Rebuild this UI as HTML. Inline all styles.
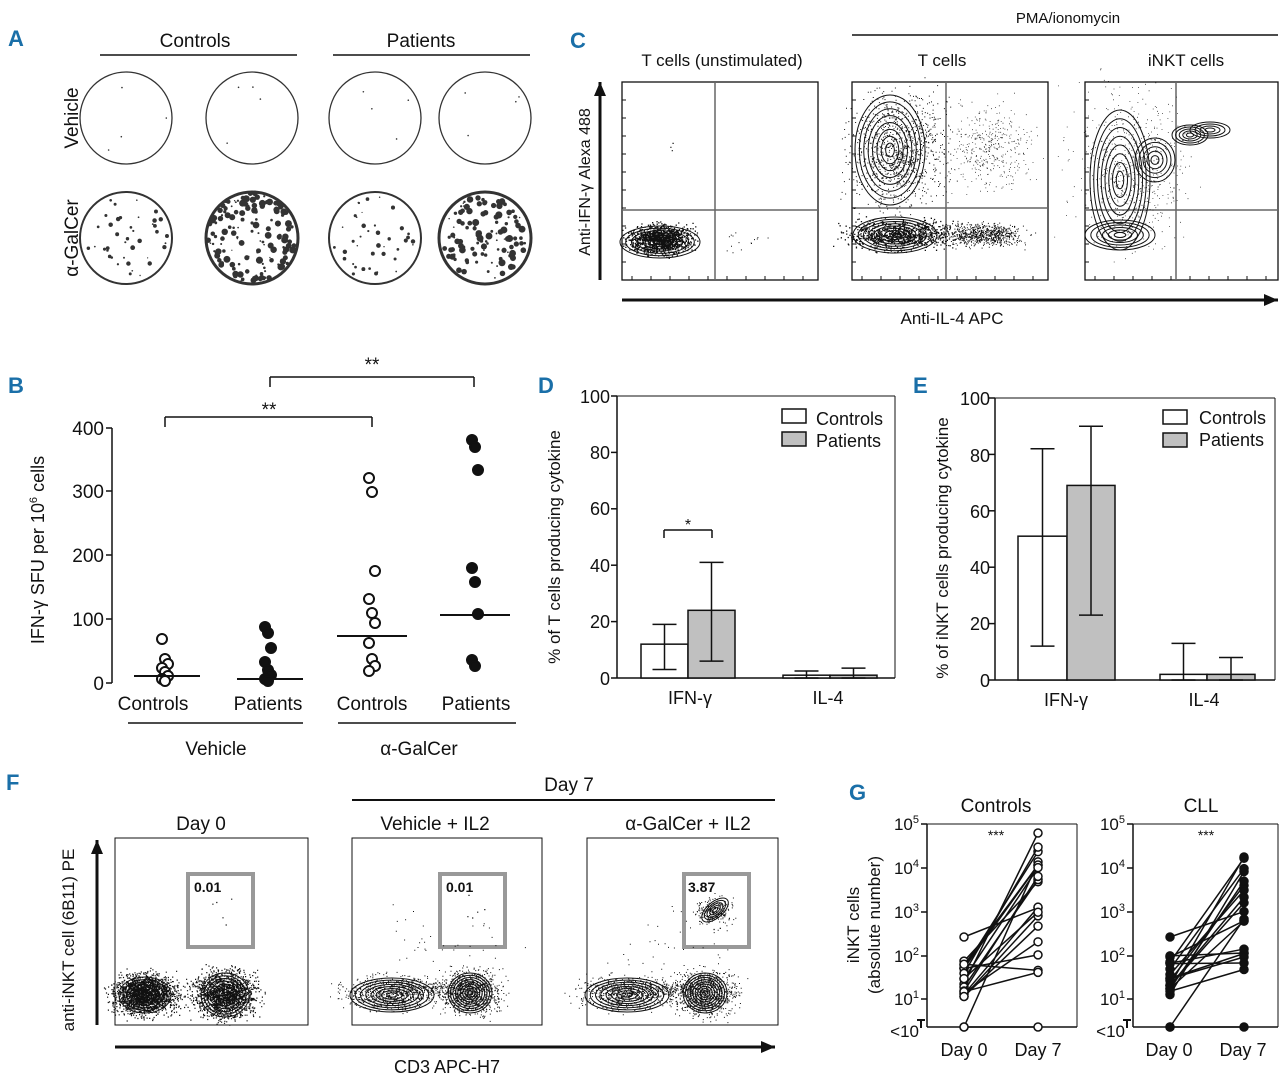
<!DOCTYPE html>
<html><head><meta charset="utf-8">
<style>
html,body{margin:0;padding:0;background:#fff;}
svg{display:block;font-family:"Liberation Sans Narrow","Liberation Sans",sans-serif;}
.pl{font-family:"Liberation Sans",sans-serif;font-weight:bold;fill:#1a6fa8;font-size:22px;}
</style></head><body>
<svg id="s" width="1280" height="1080" viewBox="0 0 1280 1080" xmlns="http://www.w3.org/2000/svg">
<g font-size="18" fill="#111" stroke="none">
<text class="pl" x="8" y="46">A</text>
<text class="pl" x="570" y="48">C</text>
<text class="pl" x="8" y="393">B</text>
<text class="pl" x="538" y="393">D</text>
<text class="pl" x="913" y="393">E</text>
<text class="pl" x="6" y="790">F</text>
<text class="pl" x="849" y="800">G</text>

<text x="195" y="47" text-anchor="middle" font-size="19">Controls</text>
<text x="421" y="47" text-anchor="middle" font-size="19">Patients</text>
<text transform="translate(78,118) rotate(-90)" text-anchor="middle" font-size="19">Vehicle</text>
<text transform="translate(78,238) rotate(-90)" text-anchor="middle" font-size="19">α-GalCer</text>

<text x="1068" y="23" text-anchor="middle" font-size="15">PMA/ionomycin</text>
<text x="722" y="66" text-anchor="middle" font-size="17">T cells (unstimulated)</text>
<text x="942" y="66" text-anchor="middle" font-size="17">T cells</text>
<text x="1186" y="66" text-anchor="middle" font-size="17">iNKT cells</text>
<text transform="translate(590,182) rotate(-90)" text-anchor="middle" font-size="16">Anti-IFN-γ Alexa 488</text>
<text x="952" y="324" text-anchor="middle" font-size="17">Anti-IL-4 APC</text>

<text transform="translate(44,550) rotate(-90)" text-anchor="middle" font-size="18">IFN-γ SFU per 10<tspan dy="-7" font-size="11">6</tspan><tspan dy="7"> cells</tspan></text>
<g font-size="19" text-anchor="end">
<text x="104" y="435">400</text><text x="104" y="498">300</text><text x="104" y="562">200</text><text x="104" y="626">100</text><text x="104" y="690">0</text></g>
<g font-size="19" text-anchor="middle">
<text x="153" y="710">Controls</text><text x="268" y="710">Patients</text><text x="372" y="710">Controls</text><text x="476" y="710">Patients</text>
<text x="216" y="755">Vehicle</text><text x="419" y="755">α-GalCer</text>
<text x="269" y="416">**</text><text x="372" y="371">**</text></g>

<text transform="translate(560,547) rotate(-90)" text-anchor="middle" font-size="17">% of T cells producing cytokine</text>
<g font-size="18" text-anchor="end">
<text x="610" y="403">100</text><text x="610" y="459">80</text><text x="610" y="515">60</text><text x="610" y="572">40</text><text x="610" y="628">20</text><text x="610" y="685">0</text></g>
<text x="690" y="704" text-anchor="middle" font-size="18">IFN-γ</text>
<text x="828" y="704" text-anchor="middle" font-size="18">IL-4</text>
<text x="816" y="425" font-size="18">Controls</text><text x="816" y="447" font-size="18">Patients</text>
<text x="688" y="530" text-anchor="middle" font-size="16">*</text>

<text transform="translate(948,548) rotate(-90)" text-anchor="middle" font-size="17">% of iNKT cells producing cytokine</text>
<g font-size="18" text-anchor="end">
<text x="990" y="405">100</text><text x="990" y="462">80</text><text x="990" y="518">60</text><text x="990" y="574">40</text><text x="990" y="630">20</text><text x="990" y="687">0</text></g>
<text x="1066" y="706" text-anchor="middle" font-size="18">IFN-γ</text>
<text x="1204" y="706" text-anchor="middle" font-size="18">IL-4</text>
<text x="1199" y="424" font-size="18">Controls</text><text x="1199" y="446" font-size="18">Patients</text>

<text x="569" y="791" text-anchor="middle" font-size="19">Day 7</text>
<text x="201" y="830" text-anchor="middle" font-size="19">Day 0</text>
<text x="435" y="830" text-anchor="middle" font-size="19">Vehicle + IL2</text>
<text x="688" y="830" text-anchor="middle" font-size="19">α-GalCer + IL2</text>
<text transform="translate(74,940) rotate(-90)" text-anchor="middle" font-size="17">anti-iNKT cell (6B11) PE</text>
<text x="447" y="1073" text-anchor="middle" font-size="18">CD3 APC-H7</text>
<g font-size="14" font-weight="bold" font-family="Liberation Sans,sans-serif">
<text x="194" y="892">0.01</text><text x="446" y="892">0.01</text><text x="688" y="892">3.87</text></g>

<text x="996" y="812" text-anchor="middle" font-size="19">Controls</text>
<text x="1201" y="812" text-anchor="middle" font-size="19">CLL</text>
<text transform="translate(859,925) rotate(-90)" text-anchor="middle" font-size="17">iNKT cells</text>
<text transform="translate(880,925) rotate(-90)" text-anchor="middle" font-size="17">(absolute number)</text>
<text x="996" y="840" text-anchor="middle" font-size="14">***</text>
<text x="1206" y="840" text-anchor="middle" font-size="14">***</text>
<g font-size="18" text-anchor="middle">
<text x="964" y="1056">Day 0</text><text x="1038" y="1056">Day 7</text>
<text x="1169" y="1056">Day 0</text><text x="1243" y="1056">Day 7</text></g>
<g font-size="17" text-anchor="end" id="gt"></g>
</g>
<g id="dyn"></g>
</svg>
<script>
var NS="http://www.w3.org/2000/svg",D=document.getElementById("dyn");
function el(t,a,p){var e=document.createElementNS(NS,t);for(var k in a)e.setAttribute(k,a[k]);(p||D).appendChild(e);return e;}
function L(x1,y1,x2,y2,w,c){el("line",{x1:x1,y1:y1,x2:x2,y2:y2,stroke:c||"#111","stroke-width":w||1.5});}
function R(x,y,w,h,f,s,sw){el("rect",{x:x,y:y,width:w,height:h,fill:f||"none",stroke:s||"#111","stroke-width":sw||1.3});}
var seed=7;function rnd(){seed=(seed*16807)%2147483647;return seed/2147483647;}
function g(){return (rnd()+rnd()+rnd()-1.5)/0.75;}
function arrow(x1,y1,x2,y2){L(x1,y1,x2,y2,3);var dx=x2-x1,dy=y2-y1,l=Math.hypot(dx,dy);dx/=l;dy/=l;
el("polygon",{points:x2+","+y2+" "+(x2-dx*14-dy*6)+","+(y2-dy*14+dx*6)+" "+(x2-dx*14+dy*6)+","+(y2-dy*14-dx*6),fill:"#111"});}
function dots(cx,cy,sx,sy,n,r){var s="";for(var i=0;i<n;i++){var x=cx+g()*sx,y=cy+g()*sy;s+="M"+x.toFixed(1)+" "+y.toFixed(1)+"h"+(r||1.2);}el("path",{d:s,stroke:"#111","stroke-width":r||1.2,fill:"none"});}
function cont(cx,cy,rx,ry,n,rot){for(var i=1;i<=n;i++){el("ellipse",{cx:cx,cy:cy,rx:rx*i/n,ry:ry*i/n,fill:"none",stroke:"#111","stroke-width":1,transform:"rotate("+(rot||0)+" "+cx+" "+cy+")"});}}
L(100,55,297,55,1.5);L(333,55,530,55,1.5);
[[126,118,0],[252,118,0],[375,118,0],[485,118,0],[126,238,1],[252,238,3],[375,238,1],[485,238,2]].forEach(function(c){
el("circle",{cx:c[0],cy:c[1],r:46,fill:"none",stroke:"#333","stroke-width":c[2]>1?3:(c[2]==0?1.3:2)});
var n=[4,40,120,90][c[2]];for(var i=0;i<n;i++){var a=rnd()*6.28,r=Math.sqrt(rnd())*42;el("circle",{cx:c[0]+Math.cos(a)*r,cy:c[1]+Math.sin(a)*r,r:c[2]==0?0.8:0.6+rnd()*(c[2]>1?3:1.8),fill:"#333"});}
if(c[2]==3){for(var i=0;i<60;i++){var a=rnd()*6.28,r=36+rnd()*9;el("circle",{cx:c[0]+Math.cos(a)*r,cy:c[1]+Math.sin(a)*r,r:1+rnd()*2.5,fill:"#333"});}}});
L(852,35,1278,35,1.5);
arrow(600,280,600,82);arrow(622,300,1278,300);
[[622,715,210],[852,946,208],[1085,1176,210]].forEach(function(p,i){
var x=p[0],w=i==2?193:196;R(x,82,w,198);L(p[1],82,p[1],280,1.5,"#666");L(x,p[2],x+w,p[2],1.5,"#666");
for(var t=0;t<10;t++){L(x,100+t*18,x+4,100+t*18,1);L(x+10+t*19,280,x+10+t*19,276,1);}});
dots(660,240,22,10,1200,1.3);cont(660,242,40,16,7);dots(740,245,20,10,15,1);dots(670,150,5,5,3);
dots(900,150,35,40,1000,1);cont(890,150,35,55,8,0);dots(900,235,38,10,900,1.3);cont(895,235,42,18,8);dots(985,235,28,8,700,1);dots(990,150,30,30,400,0.8);
cont(1120,180,30,70,8);cont(1120,235,35,15,6);cont(1190,135,18,10,5);cont(1155,160,20,22,5);dots(1130,170,40,55,700,0.8);cont(1210,130,20,8,4);
L(112,428,112,683,1.5);[428,491,555,619,683].forEach(function(y){L(106,y,112,y,1.5)});
L(128,723,303,723,1.5);L(338,723,516,723,1.5);
L(165,417,372,417,1.5);L(165,417,165,427,1.5);L(372,417,372,427,1.5);
L(270,377,474,377,1.5);L(270,377,270,387,1.5);L(474,377,474,387,1.5);
function pts(x,ys,open){ys.forEach(function(y,i){el("circle",{cx:x+((i%3)-1)*3,cy:y,r:5,fill:open?"#fff":"#111",stroke:"#111","stroke-width":2})});}
pts(165,[639,659,664,668,672,676,679,681],1);L(134,676,200,676,2);
pts(268,[627,633,648,662,670,675,679,681],0);L(237,679,303,679,2);
pts(372,[478,492,571,599,613,623,643,659,666,671],1);L(337,636,407,636,2);
pts(475,[440,447,470,568,582,614,660,666],0);L(440,615,510,615,2);
function barchart(ax,top,bot,right,bars,legx,legy){
L(ax,top,ax,bot,1.5);L(ax,bot,right,bot,1.5);L(ax,top,right,top,1);L(right,top,right,bot,1);
for(var i=0;i<=5;i++){var y=top+(bot-top)*i/5;L(ax-6,y,ax,y,1.5);}
var sc=(bot-top)/100;bars.forEach(function(b){var y=bot-b[2]*sc;R(b[0],y,b[1],bot-y,b[3]?"#c0c0c0":"#fff","#111",1.5);
var cx=b[0]+b[1]/2,y1=bot-b[4]*sc,y2=bot-b[5]*sc;L(cx,y1,cx,y2,1.5);L(cx-12,y1,cx+12,y1,1.5);L(cx-12,y2,cx+12,y2,1.5);});
R(legx,legy,24,14,"#fff","#111",1.5);R(legx,legy+23,24,14,"#c0c0c0","#111",1.5);}
barchart(617,396,678,895,[[641,47,12,0,3,19],[688,47,24,1,6,41],[783,47,1,0,0,2.5],[830,47,1,1,0,3.5]],782,409);
L(664,530,712,530,1.5);L(664,530,664,538,1.5);L(712,530,712,538,1.5);
barchart(995,398,680,1275,[[1018,49,51,0,12,82],[1067,48,69,1,23,90],[1160,47,2,0,0,13],[1207,48,2,1,0,8]],1163,410);
L(352,800,775,800,2);
arrow(97,1025,97,840);arrow(115,1047,775,1047);
[[115,193,188],[352,190,440],[587,191,684]].forEach(function(p,i){R(p[0],838,p[1],187,"none","#111",1);R(p[2],874,65,73,"none","#999",4);
if(i==0){dots(145,995,22,14,2000,1.2);cont(145,995,26,18,7);dots(225,995,22,17,1600,1.2);cont(225,995,24,22,8);}
else{var o=p[0];dots(o+40,993,35,12,700,1);cont(o+40,995,42,17,8);dots(o+118,993,22,16,900,1);cont(o+118,993,22,20,9);dots(o+80,990,30,6,150,1);dots(o+90,950,50,30,40,1);}
dots(p[2]+33,915,8,15,5,1.2);});
dots(715,910,14,10,200,1);cont(715,910,16,8,5,-40);
var gt=document.getElementById("gt");
function gplot(ax,right,open){var top=824,bot=1027;L(ax,top,ax,bot,1.5);L(ax,bot,right,bot,1.5);L(ax,top,right,top,1);L(right,top,right,bot,1);
var ys=[824,868,912,956,999];ys.forEach(function(y,i){L(ax-6,y,ax,y,1.5);var t=el("text",{x:ax-8,y:y+6},gt);t.textContent="10";var s=el("tspan",{dy:-7,"font-size":11},t);s.textContent=String(5-i);});
var t=el("text",{x:ax-8,y:1037},gt);t.textContent="<10";L(ax-6,1020,ax-6,1028,2);L(ax-10,1020,ax-2,1020,2);
var x0=ax+37,x1=ax+111;for(var i=0;i<20;i++){var a=i<2?1027:(open?960+rnd()*40:950+rnd()*45);if(i==2)a=937;var b=(open?845+rnd()*130:858+rnd()*115);if(i==3)b=open?833:857;if(i==1&&!open)b=1027;if(i==0&&open)b=1027;
L(x0,a,x1,b,1.5);el("circle",{cx:x0,cy:a,r:4,fill:open?"#fff":"#111",stroke:"#111","stroke-width":1.5});el("circle",{cx:x1,cy:b,r:4,fill:open?"#fff":"#111",stroke:"#111","stroke-width":1.5});}}
gplot(927,1077,1);gplot(1133,1278,0);
</script>
</body></html>
